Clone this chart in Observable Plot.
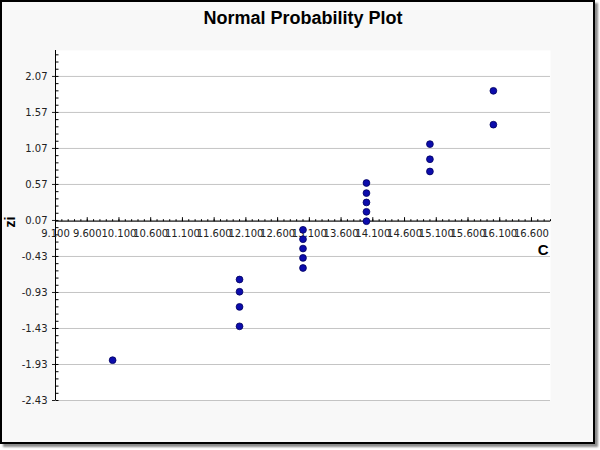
<!DOCTYPE html>
<html><head><meta charset="utf-8">
<script src="https://cdn.jsdelivr.net/npm/d3@7"></script>
<script src="https://cdn.jsdelivr.net/npm/@observablehq/plot@0.6"></script>
<style>
body{margin:0;background:#fff;}
#frame{position:absolute;left:0;top:0;width:591px;height:440px;border:2px solid #000;background:#f8f8f8;box-shadow:3px 3px 2px #8a8a8a;}
#chart{position:absolute;left:0;top:0;}
</style></head><body><div id="frame"></div><div id="chart"></div>
<script>
const title = "Normal Probability Plot";
const xLabel = "C";
const yLabel = "zi";
const cValues = [10, 12, 12, 12, 12, 13, 13, 13, 13, 13, 14, 14, 14, 14, 14, 15, 15, 15, 16, 16];
const ziValues = [-1.87, -1.40, -1.13, -0.92, -0.75, -0.59, -0.45, -0.32, -0.19, -0.06, 0.06, 0.19, 0.32, 0.45, 0.59, 0.75, 0.92, 1.13, 1.40, 1.87];
const xTicks = [9.1, 9.6, 10.1, 10.6, 11.1, 11.6, 12.1, 12.6, 13.1, 13.6, 14.1, 14.6, 15.1, 15.6, 16.1, 16.6];
const yTicks = [-2.43, -1.93, -1.43, -0.93, -0.43, 0.07, 0.57, 1.07, 1.57, 2.07];
const xDomain = [9.1, 16.9];
const yDomain = [-2.43, 2.43];
const xCross = 0.06;

const points = cValues.map((c, i) => ({c, zi: ziValues[i]}));
const xMinor = d3.range(xDomain[0], xDomain[1] + 1e-9, 0.1);
const yMinor = d3.range(yDomain[0], yDomain[1] + 1e-9, 0.1);

const tickUp = {draw(ctx, size) { const l = Math.sqrt(size / Math.PI); ctx.moveTo(0, 0); ctx.lineTo(0, -l); }};
const tickRight = {draw(ctx, size) { const l = Math.sqrt(size / Math.PI); ctx.moveTo(0, 0); ctx.lineTo(l, 0); }};

const chart = Plot.plot({
  width: 600, height: 450,
  marginLeft: 55, marginRight: 50, marginTop: 50, marginBottom: 50,
  style: {background: "transparent", fontFamily: "DejaVu Sans", fontSize: "10px", color: "#222"},
  x: {domain: xDomain, axis: null},
  y: {domain: yDomain, ticks: yTicks, tickFormat: d => d.toFixed(2), tickSize: 3, tickPadding: 5, label: null},
  marks: [
    Plot.frame({fill: "white", stroke: "none"}),
    Plot.ruleY(yTicks, {stroke: "#c4c4c4"}),
    Plot.ruleX([xDomain[0]], {stroke: "#000"}),
    Plot.ruleY([xCross], {stroke: "#000"}),
    Plot.dot(yMinor, {x: xDomain[0], y: d => d, symbol: tickRight, r: 3, fill: "none", stroke: "#000", strokeWidth: 1}),
    Plot.dot(xMinor, {x: d => d, y: xCross, symbol: tickUp, r: 2, fill: "none", stroke: "#000", strokeWidth: 1}),
    Plot.dot(xTicks, {x: d => d, y: xCross, symbol: tickUp, r: 4, fill: "none", stroke: "#000", strokeWidth: 1}),
    Plot.text(xTicks, {x: d => d, y: xCross, dy: 13, text: d => d.toFixed(3), fontSize: 10, fill: "#222"}),
    Plot.dot(points, {x: "c", y: "zi", r: 3.4, fill: "#0c0cac", stroke: "#00005e", strokeWidth: 0.8}),
    Plot.text([xLabel], {frameAnchor: "right", y: xCross, dy: 29, dx: -2, textAnchor: "end", text: d => d, fontSize: 15, fontWeight: "bold", fontFamily: "Liberation Sans", fill: "#000"}),
    Plot.text([yLabel], {frameAnchor: "left", dx: -45, dy: 2, rotate: -90, text: d => d, fontSize: 14, fontWeight: "bold", fontFamily: "Liberation Sans", fill: "#000"}),
    Plot.text([title], {frameAnchor: "top", dy: -32, lineAnchor: "middle", text: d => d, fontSize: 18, fontWeight: "bold", fontFamily: "Liberation Sans", fill: "#000"})
  ]
});
document.getElementById("chart").appendChild(chart);
</script>
</body></html>
